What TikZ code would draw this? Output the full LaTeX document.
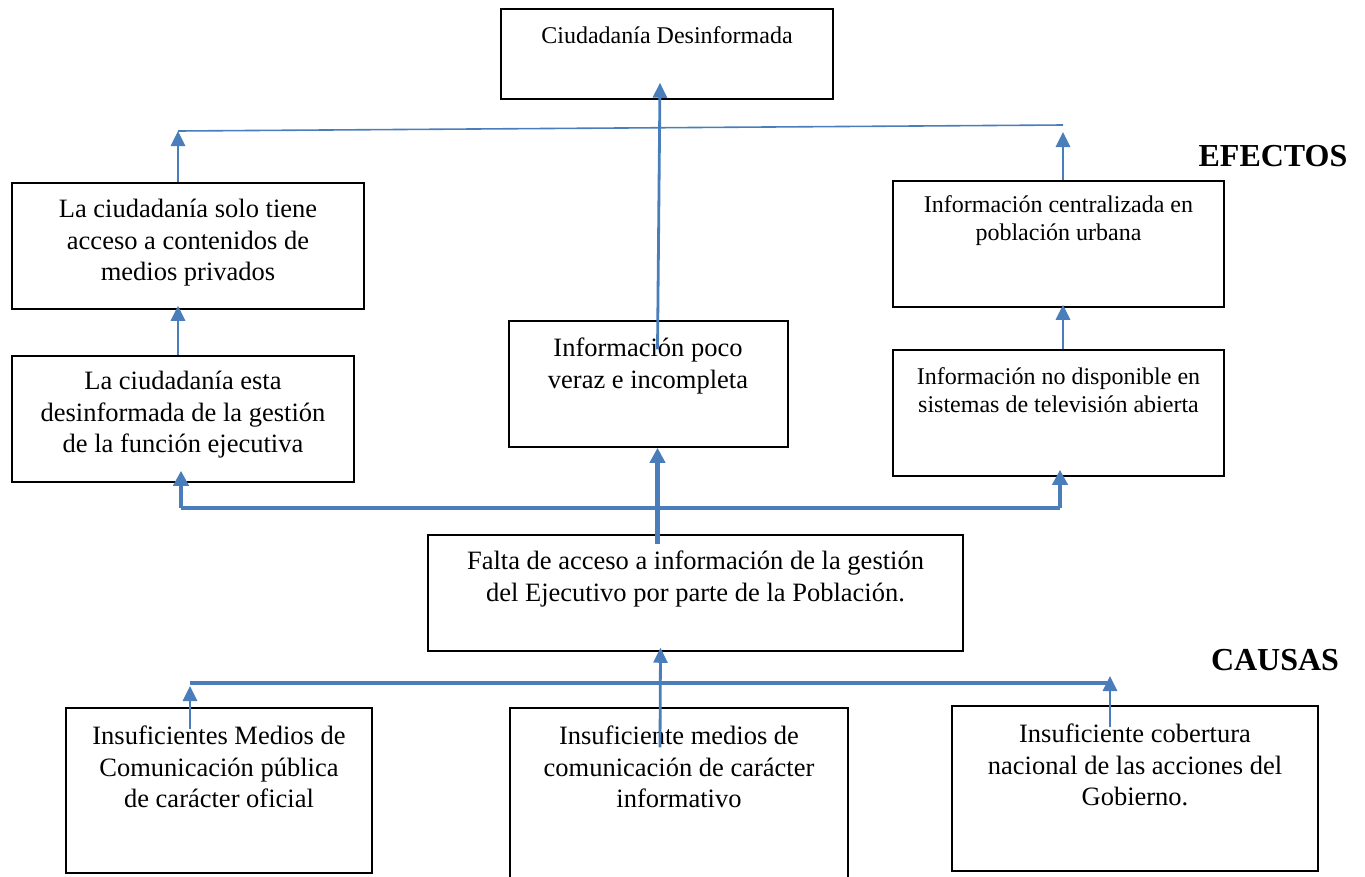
\documentclass[tikz,border=0pt]{standalone}
\usepackage{fontspec}
\setmainfont{Liberation Serif}
\usetikzlibrary{arrows.meta, calc}

\begin{document}
\begin{tikzpicture}[x=1pt, y=-1pt,
  box/.style={rectangle, draw, line width=1.5pt},
  bigtxt/.style={align=center, font=\fontsize{26.5}{31.5}\selectfont},
  smalltxt/.style={align=center, font=\fontsize{24}{28}\selectfont},
  sidetitle/.style={font=\fontsize{32}{36}\selectfont\bfseries},
  thinline/.style={draw=linkblue, line width=1.6pt},
  thickline/.style={draw=linkblue, line width=4.5pt},
  thinarrow/.style={draw=linkblue, line width=2.8pt, -{Triangle[width=14pt,length=15pt]}},
  thickarrow/.style={draw=linkblue, line width=4.5pt, -{Triangle[width=15pt,length=15pt]}}]
  % Colours
  \definecolor{linkblue}{RGB}{74,126,187}
  \useasboundingbox (0,0) rectangle (1365,876);

  % Effects boxes
  \node[box, minimum width=332, minimum height=90] (desinf) at (667,54) {};
  \node[smalltxt] (desinftxt) at (667,35) {Ciudadanía Desinformada};

  \node[box, minimum width=352, minimum height=126] (priv) at (188,246) {};
  \node[bigtxt] (privtxt) at (188,243) {La ciudadanía solo tiene\\acceso a contenidos de\\medios privados};

  \node[box, minimum width=342, minimum height=126] (desc) at (183,419) {};
  \node[bigtxt] (desctxt) at (183,415) {La ciudadanía esta\\desinformada de la gestión\\de la función ejecutiva};

  \node[box, minimum width=279, minimum height=126] (veraz) at (648.5,384) {};
  \node[bigtxt] (veraztxt) at (648,366) {Información poco\\veraz e incompleta};

  \node[box, minimum width=331, minimum height=126] (urb) at (1058.5,244) {};
  \node[smalltxt] (urbtxt) at (1058.5,221) {Información centralizada en\\población urbana};

  \node[box, minimum width=331, minimum height=126] (tv) at (1058.5,413) {};
  \node[smalltxt] (tvtxt) at (1058.5,390) {Información no disponible en\\sistemas de televisión abierta};

  % Central problem
  \node[box, minimum width=535, minimum height=116] (falta) at (695.5,593) {};
  \node[bigtxt] (faltatxt) at (695.5,579) {Falta de acceso a información de la gestión\\del Ejecutivo por parte de la Población.};

  % Causes boxes
  \node[box, minimum width=306, minimum height=165] (cauL) at (219,790.5) {};
  \node[bigtxt] (cauLtxt) at (219,767) {Insuficientes Medios de\\Comunicación pública\\de carácter oficial};

  \node[box, minimum width=338, minimum height=176] (cauM) at (679,796) {};
  \node[bigtxt] (cauMtxt) at (679,767) {Insuficiente medios de\\comunicación de carácter\\informativo};

  \node[box, minimum width=366, minimum height=165] (cauR) at (1135,788.5) {};
  \node[bigtxt] (cauRtxt) at (1135,765) {Insuficiente cobertura\\nacional de las acciones del\\Gobierno.};

  % Side titles
  \node[sidetitle] (efectos) at (1273,156) {EFECTOS};
  \node[sidetitle] (causas) at (1275,660) {CAUSAS};

  % Upper connectors
  \coordinate (effL) at (178,131);
  \coordinate (effR) at (1063,125);
  \draw[thinline] (effL) -- (effR);
  \draw[thinarrow] (effL |- priv.north) -- (effL);
  \draw[thinarrow] (effR |- urb.north) -- ($(effR)+(0,7)$);
  \draw[thinarrow] (desc.north -| effL) -- ($(priv.south -| effL)+(0,-4)$);
  \draw[thinarrow] (tv.north -| effR) -- ($(urb.south -| effR)+(0,-3)$);
  \draw[thinarrow] ($(veraz.north)+(9,29)$) -- ($(desinf.south)+(-7,-17)$);

  % Effects bus
  \coordinate (effBusL) at (181,508);
  \coordinate (effBusR) at (1060,508);
  \draw[thickline] (effBusL) -- (effBusR);
  \draw[thickarrow] (effBusL) -- ($(desc.south -| effBusL)+(0,-12)$);
  \draw[thickarrow] (effBusR) -- ($(tv.south -| effBusR)+(0,-7)$);
  \draw[thickarrow] ($(falta.north)+(-38,10)$) -- ($(veraz.south)+(9,0)$);

  % Causes bus
  \coordinate (cauBusL) at (190,683);
  \coordinate (cauBusR) at (1110,683);
  \draw[thickline] (cauBusL) -- (cauBusR);
  \draw[thinarrow] ($(cauL.north -| cauBusL)+(0,22)$) -- ($(cauBusL)+(0,3)$);
  \draw[thinarrow] ($(cauR.north -| cauBusR)+(0,22)$) -- ($(cauBusR)+(0,-7)$);
  \draw[thinarrow] ($(cauM.north)+(-19,40)$) -- ($(falta.south)+(-35,-4)$);
\end{tikzpicture}
\end{document}
